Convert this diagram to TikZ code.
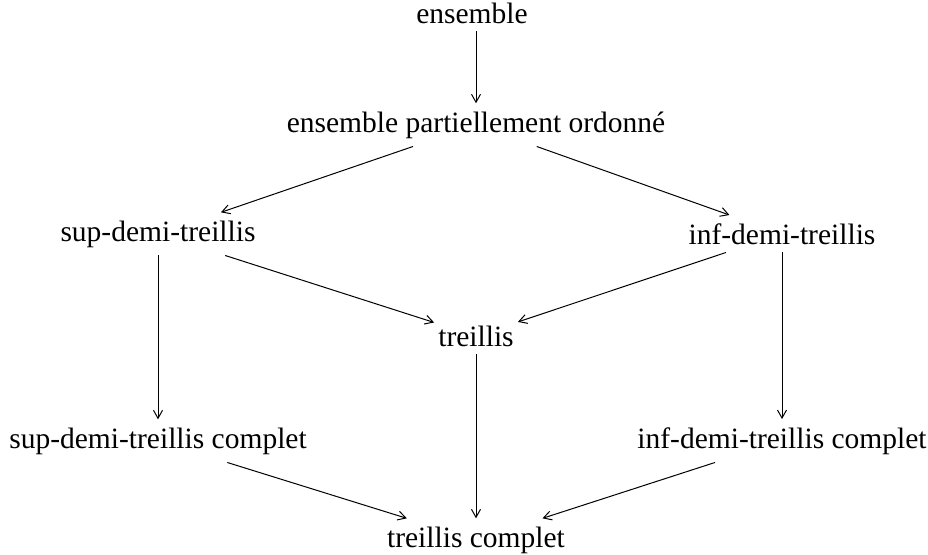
\documentclass[tikz,border=0pt]{standalone}
\usepackage{fontspec}
\setmainfont{Liberation Serif}
\usetikzlibrary{arrows.meta}
\tikzset{
  lbl/.style={anchor=base, inner xsep=4pt, inner ysep=8pt,
              font=\fontsize{29.5}{35}\selectfont},
  arr/.style={-{Straight Barb[length=8pt,width=9pt]}, line width=1pt}
}
\begin{document}
\begin{tikzpicture}[x=1pt,y=-1pt]
\useasboundingbox (0,0) rectangle (928,554);
\node[lbl] (ens)  at (472,23)  {ensemble};
\node[lbl] (epo)  at (476,132) {ensemble partiellement ordonné};
\node[lbl] (sup)  at (158,241) {sup-demi-treillis};
\node[lbl] (inf)  at (782,244) {inf-demi-treillis};
\node[lbl] (tr)   at (476,346) {treillis};
\node[lbl] (supc) at (158,448) {sup-demi-treillis complet};
\node[lbl] (infc) at (782,448) {inf-demi-treillis complet};
\node[lbl] (tc)   at (476,547) {treillis complet};
\draw[arr] (ens.south -| tr) -- (epo.north -| tr);
\draw[arr] (epo) -- (sup);
\draw[arr] (epo) -- (inf);
\draw[arr] (sup) -- (supc);
\draw[arr] (sup) -- (tr);
\draw[arr] (inf) -- (tr);
\draw[arr] (inf) -- (infc);
\draw[arr] (tr) -- (tc);
\draw[arr] (supc) -- (tc);
\draw[arr] (infc) -- (tc);
\end{tikzpicture}
\end{document}
